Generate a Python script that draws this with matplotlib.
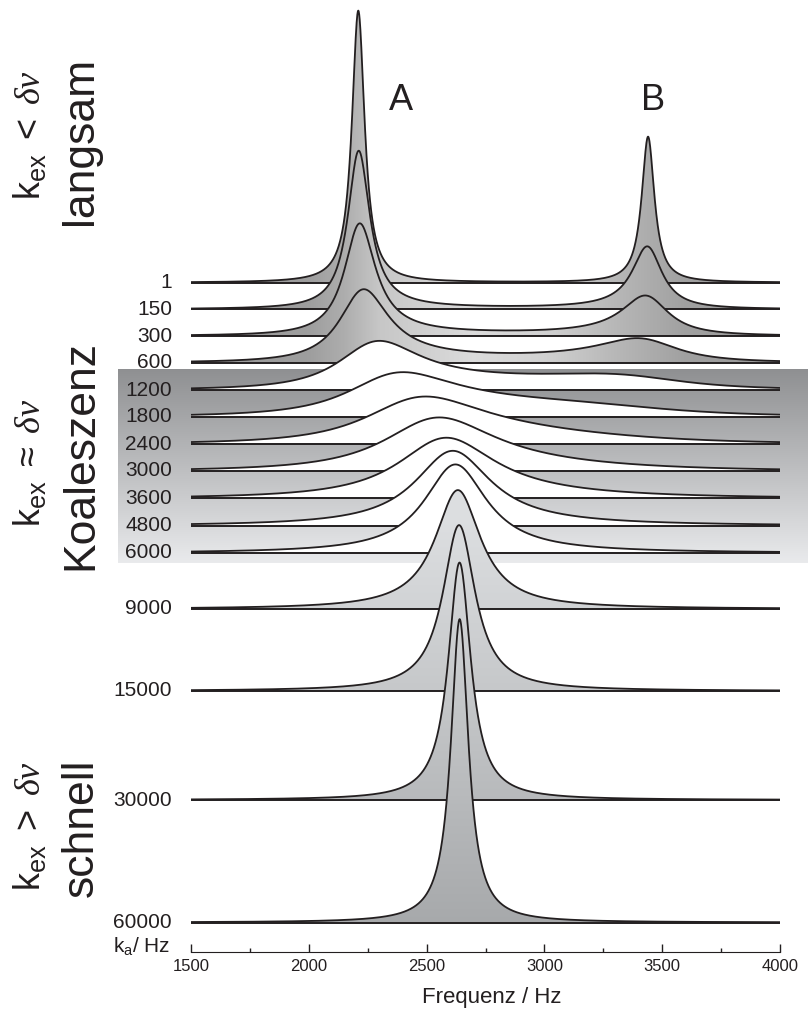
import numpy as np
import matplotlib
matplotlib.use('Agg')
import matplotlib.pyplot as plt
from matplotlib.patches import Polygon
from matplotlib.ticker import MultipleLocator

plt.rcParams['font.family'] = ['Liberation Sans', 'DejaVu Sans']
plt.rcParams['mathtext.fontset'] = 'custom'
plt.rcParams['mathtext.rm'] = 'Liberation Sans'
plt.rcParams['mathtext.it'] = 'Liberation Serif:italic'

# exchange rates k_a (Hz) of the stacked spectra, top to bottom
rates = [1, 150, 300, 600, 1200, 1800, 2400, 3000, 3600, 4800, 6000,
         9000, 15000, 30000, 60000]
rate_labels = [str(k) for k in rates]

# two-site exchange A <-> B
nu_a = 2210.0      # Hz
nu_b = 3440.0      # Hz
p_a = 0.65         # population of A
r2 = 205.0         # transverse relaxation, 1/s

freq_ticks = [1500, 2000, 2500, 3000, 3500, 4000]

# layout (pixels from top) of the stacked traces
baselines = [282.7, 309.3, 336, 362.7, 390, 416.7, 444, 471, 498.3, 525.7,
             553, 609, 691, 800, 922.5]
regime = ['slow'] * 4 + ['coal'] * 7 + ['fast'] * 4
gain = 86200.0     # pixels per unit of intensity


def lineshape(nu, k):
    w = 2 * np.pi * nu
    ka = k
    kb = k * p_a / (1 - p_a)
    a = r2 + ka + 1j * (2 * np.pi * nu_a - w)
    d = r2 + kb + 1j * (2 * np.pi * nu_b - w)
    det = a * d - ka * kb
    return np.real((p_a * (d + ka) + (1 - p_a) * (a + kb)) / det)


W, H = 808, 1011
fig = plt.figure(figsize=(W / 100, H / 100), dpi=100)

# background layer in pixel coordinates: coalescence band and texts
bg = fig.add_axes([0, 0, 1, 1])
bg.set_xlim(0, W)
bg.set_ylim(H, 0)
bg.axis('off')

box_top, box_bot = 370, 563.5
t = np.linspace(0, 1, 256)[:, None]
g = 0.56 + (0.915 - 0.56) * t
band = np.dstack([g, g + 0.004, g + 0.012]).clip(0, 1)
bg.imshow(band, extent=(118, W, box_bot, box_top), origin='upper',
          aspect='auto', interpolation='bilinear', zorder=1)
bg.set_xlim(0, W)
bg.set_ylim(H, 0)

ink = '#231f20'
for lab, y0 in zip(rate_labels, baselines):
    bg.text(172, y0, lab, ha='right', va='center', fontsize=15, color=ink,
            zorder=3)
bg.text(170, 947, r'$\mathrm{k_a}$/ Hz', ha='right', va='center',
        fontsize=15, color=ink)
bg.text(492, 998, 'Frequenz / Hz', ha='center', va='center', fontsize=16,
        color=ink)
bg.text(401, 101, 'A', ha='center', va='center', fontsize=26, color=ink)
bg.text(653, 101, 'B', ha='center', va='center', fontsize=26, color=ink)

side = [('langsam', r'$\mathrm{k_{ex}}\ <\ \delta\nu$', 141, 135),
        ('Koaleszenz', r'$\mathrm{k_{ex}}\ \approx\ \delta\nu$', 455, 463),
        ('schnell', r'$\mathrm{k_{ex}}\ >\ \delta\nu$', 828, 826)]
for word, rel, yw, yr in side:
    bg.text(81, yw, word, rotation=90, ha='center', va='center',
            fontsize=32, color=ink)
    bg.text(30, yr, rel, rotation=90, ha='center', va='center',
            fontsize=26, color=ink)

# spectra
ax = fig.add_axes([191 / W, 0, 589 / W, 1])
ax.patch.set_visible(False)

nu = np.linspace(1500, 4000, 2501)

shade_hz = [1500, 2000, 2150, 2300, 2700, 3000, 3300, 3600, 4000]
shade_grey = [0.60, 0.62, 0.68, 0.78, 0.86, 0.82, 0.72, 0.63, 0.60]
hgrey = np.interp(np.linspace(1500, 4000, 400), shade_hz, shade_grey)
hgrad = np.dstack([hgrey, hgrey, hgrey])[0][None, :, :]

for i, (k, y0) in enumerate(zip(rates, baselines)):
    y = y0 - gain * lineshape(nu, k)
    z = 3 + i
    verts = np.column_stack([np.r_[nu, nu[::-1]],
                             np.r_[y, np.full(nu.size, y0)]])
    face = 'white' if regime[i] == 'coal' else 'none'
    poly = Polygon(verts, closed=True, facecolor=face, edgecolor='none',
                   zorder=z)
    ax.add_patch(poly)
    ytop = y.min() - 2
    if regime[i] == 'slow':
        im = ax.imshow(hgrad, extent=(1500, 4000, y0, ytop), origin='upper',
                       aspect='auto', interpolation='bilinear', zorder=z)
        im.set_clip_path(poly)
    elif regime[i] == 'fast':
        ys = np.linspace(ytop, y0, 200)
        gv = np.interp(ys, [520, 925], [0.865, 0.655])
        vgrad = np.dstack([gv, gv + 0.008, gv + 0.016])[0][:, None, :]
        im = ax.imshow(vgrad.clip(0, 1), extent=(1500, 4000, y0, ytop),
                       origin='upper', aspect='auto',
                       interpolation='bilinear', zorder=z)
        im.set_clip_path(poly)
    ax.plot([1500, 4000], [y0, y0], color=ink, lw=1.4, zorder=z + 0.5,
            solid_capstyle='butt')
    ax.plot(nu, y, color=ink, lw=1.3, zorder=z + 0.6)

ax.set_xlim(1500, 4000)
ax.set_ylim(H, 0)
for s in ['left', 'right', 'top']:
    ax.spines[s].set_visible(False)
ax.spines['bottom'].set_position(('data', 952))
ax.spines['bottom'].set_color(ink)
ax.set_yticks([])
ax.set_xticks(freq_ticks)
ax.xaxis.set_minor_locator(MultipleLocator(250))
ax.tick_params(axis='x', which='major', direction='in', length=6, width=1,
               color=ink, labelsize=12, labelcolor=ink, pad=5)
ax.tick_params(axis='x', which='minor', direction='in', length=3, width=1,
               color=ink)

fig.savefig('out.png', dpi=100)
